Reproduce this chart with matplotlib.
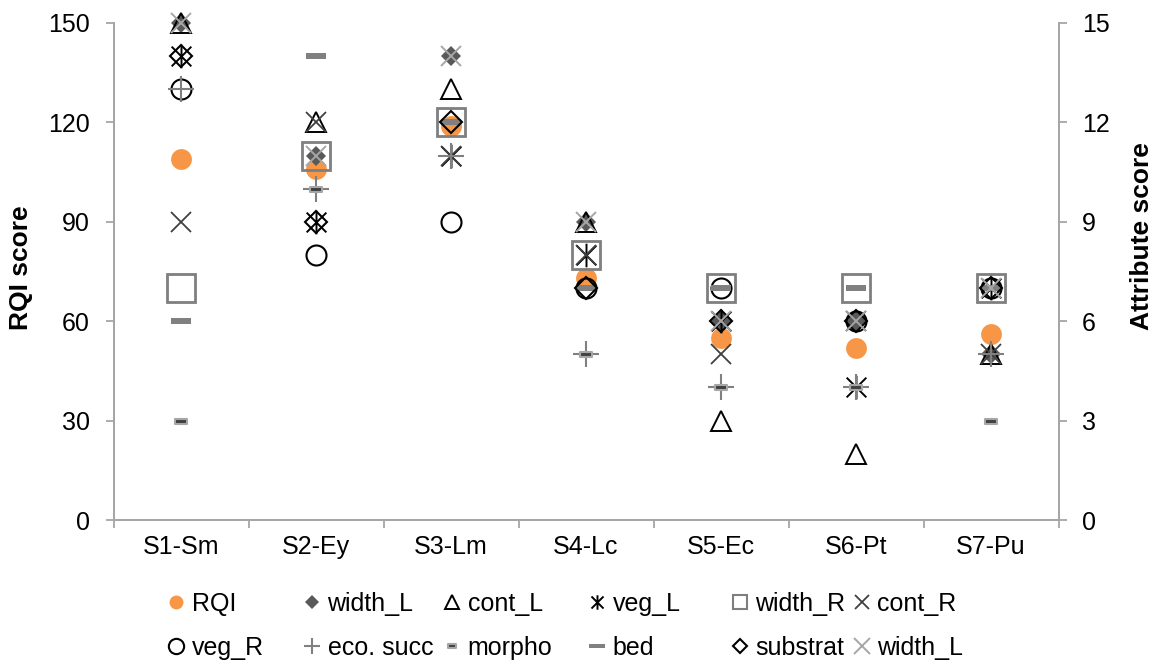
import matplotlib
matplotlib.use("Agg")
import matplotlib.pyplot as plt
from matplotlib.path import Path
from matplotlib.lines import Line2D
import numpy as np

plt.rcParams['font.family'] = ['Liberation Sans', 'DejaVu Sans']

sites = ["S1-Sm", "S2-Ey", "S3-Lm", "S4-Lc", "S5-Ec", "S6-Pt", "S7-Pu"]
rqi = [109, 106, 119, 73, 55, 52, 56]
width_L = [15, 11, 14, 9, 6, 6, 5]
cont_L = [15, 12, 13, 9, 3, 2, 5]
veg_L = [14, 9, 11, 8, 6, 4, 7]
width_R = [7, 11, 12, 8, 7, 7, 7]
cont_R = [9, 12, 11, 8, 5, 6, 5]
veg_R = [13, 8, 9, 7, 7, 6, 7]
eco_succ = [13, 10, 11, 5, 4, 4, 5]
morpho = [3, 10, 12, 5, 4, 4, 3]
bed = [6, 14, 12, 7, 7, 7, 7]
substrat = [14, 9, 12, 7, 6, 6, 7]
width_L2 = [15, 11, 14, 9, 6, 6, 7]

fig = plt.figure(figsize=(11.61, 6.67), dpi=100)
ax = fig.add_axes([113.5/1161, 1-520/667, (1058.5-113.5)/1161, (520-23)/667])
ax2 = ax.twinx()

x = np.arange(len(sites))

star_path = Path([(-1, -1), (1, 1), (-1, 1), (1, -1), (0, -1.2), (0, 1.2)],
                 [Path.MOVETO, Path.LINETO, Path.MOVETO, Path.LINETO, Path.MOVETO, Path.LINETO])
morpho_path = Path([(-1, -0.45), (1, -0.45), (1, 0.45), (-1, 0.45), (-1, -0.45)],
                   [Path.MOVETO, Path.LINETO, Path.LINETO, Path.LINETO, Path.CLOSEPOLY])
bed_path = Path([(-1, -0.25), (1, -0.25), (1, 0.25), (-1, 0.25), (-1, -0.25)],
                [Path.MOVETO, Path.LINETO, Path.LINETO, Path.LINETO, Path.CLOSEPOLY])

ax.set_ylim(0, 150)
ax.set_xlim(-0.5, len(sites) - 0.5)
ax2.set_ylim(0, 15)

styles = {
    'RQI': dict(marker='o', mfc='#F79646', mec='#F79646', mew=0),
    'width_L': dict(marker='D', mfc='#595959', mec='#595959', mew=0),
    'cont_L': dict(marker='^', mfc='none', mec='black', mew=1.4),
    'veg_L': dict(marker=star_path, mfc='black', mec='black', mew=1.4),
    'width_R': dict(marker='s', mfc='none', mec='#7F7F7F', mew=2.0),
    'cont_R': dict(marker='x', mfc='#404040', mec='#404040', mew=1.3),
    'veg_R': dict(marker='o', mfc='none', mec='black', mew=1.5),
    'eco. succ': dict(marker='+', mfc='#808080', mec='#808080', mew=1.5),
    'morpho': dict(marker=morpho_path, mfc='#404040', mec='#A6A6A6', mew=1.5),
    'bed': dict(marker=bed_path, mfc='#808080', mec='#808080', mew=0),
    'substrat': dict(marker='D', mfc='none', mec='black', mew=1.5),
    'width_L2': dict(marker='x', mfc='#A6A6A6', mec='#A6A6A6', mew=1.4),
}
main_ms = {'RQI': 15, 'width_L': 9.7, 'cont_L': 14.4, 'veg_L': 17, 'width_R': 20,
           'cont_R': 15, 'veg_R': 14.4, 'eco. succ': 18.7, 'morpho': 8, 'bed': 15,
           'substrat': 10.7, 'width_L2': 14.5}
leg_ms = {'RQI': 10, 'width_L': 6.8, 'cont_L': 10, 'veg_L': 10.4, 'width_R': 10.5,
          'cont_R': 10, 'veg_R': 11, 'eco. succ': 11.5, 'morpho': 6, 'bed': 11,
          'substrat': 7, 'width_L2': 11}

series = [('RQI', rqi, ax), ('width_L', width_L, ax2), ('cont_L', cont_L, ax2),
          ('veg_L', veg_L, ax2), ('width_R', width_R, ax2), ('cont_R', cont_R, ax2),
          ('veg_R', veg_R, ax2), ('eco. succ', eco_succ, ax2), ('morpho', morpho, ax2),
          ('bed', bed, ax2), ('substrat', substrat, ax2), ('width_L2', width_L2, ax2)]

for key, data, a in series:
    a.plot(x, data, linestyle='none', ms=main_ms[key], zorder=3, clip_on=False,
           **styles[key])

handles = {}
for key, _, _ in series:
    lw_style = dict(styles[key])
    if key == 'width_R':
        lw_style['mew'] = 1.5
    handles[key] = Line2D([], [], linestyle='none', ms=leg_ms[key], **lw_style)

spine_c = '#A6A6A6'
for a in (ax, ax2):
    for s in a.spines.values():
        s.set_color(spine_c)
        s.set_linewidth(1.3)
    a.spines['top'].set_visible(False)

ax.set_yticks(range(0, 151, 30))
ax2.set_yticks(range(0, 16, 3))
ax.set_xticks(x)
ax.set_xticklabels(sites)
ax.set_xticks(np.arange(-0.5, len(sites) + 0.5, 1), minor=True)
ax.tick_params(axis='x', which='major', length=0, pad=11, labelsize=18)
ax.tick_params(axis='x', which='minor', length=6, color=spine_c, width=1.3)
ax.tick_params(axis='y', length=6, color=spine_c, width=1.3, labelsize=18, pad=11)
ax2.tick_params(axis='y', length=6, color=spine_c, width=1.3, labelsize=18, pad=11)

ax.set_ylabel("RQI score", fontsize=19, fontweight='bold')
ax2.set_ylabel("Attribute score", fontsize=19, fontweight='bold', rotation=90)
ax.yaxis.set_label_coords((33 - 113.5) / 945, (520 - 268) / 497)
ax2.yaxis.set_label_coords((1130 - 113.5) / 945, (520 - 236) / 497)

legend_cols = [('RQI', 'veg_R'), ('width_L', 'eco. succ'), ('cont_L', 'morpho'),
               ('veg_L', 'bed'), ('width_R', 'substrat'), ('cont_R', 'width_L2')]
col_marker_x = [176, 312, 452, 597, 740, 862]
for (k1, k2), mx in zip(legend_cols, col_marker_x):
    labs = [k1, k2.replace('width_L2', 'width_L')]
    fig.legend([handles[k1], handles[k2]], labs, loc='center left',
               bbox_to_anchor=((mx - 12.5) / 1161, 1 - 626 / 667),
               frameon=False, fontsize=18, borderpad=0, borderaxespad=0,
               handlelength=1.0, handletextpad=0.12, labelspacing=0.8,
               numpoints=1)

fig.savefig("out.png", dpi=100)
